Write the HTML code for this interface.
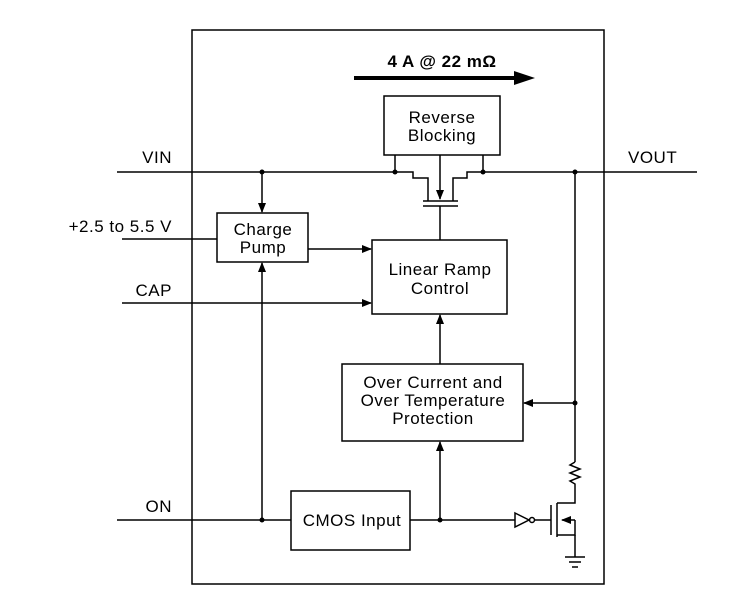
<!DOCTYPE html>
<html><head><style>
html,body{margin:0;padding:0;background:#fff;}
svg{display:block;}
text{font-family:"Liberation Sans",sans-serif;font-size:17px;letter-spacing:0.5px;fill:#000;}
</style></head><body>
<svg width="746" height="616" viewBox="0 0 746 616" xmlns="http://www.w3.org/2000/svg">
<defs>
<marker id="a" markerWidth="10" markerHeight="10" refX="9" refY="5" orient="auto" markerUnits="userSpaceOnUse">
<path d="M0,1 L10,5 L0,9 Z" fill="#000"/></marker>
</defs>
<g fill="none" stroke="#000" stroke-width="1.5">
<rect x="192" y="30" width="412" height="554"/>
<rect x="384" y="96" width="116" height="59"/>
<rect x="217" y="213" width="91" height="49"/>
<rect x="372" y="240" width="135" height="74"/>
<rect x="342" y="364" width="181" height="77"/>
<rect x="291" y="491" width="119" height="59"/>
<path d="M117,172 H413 V178 H428 V201"/>
<path d="M697,172 H467 V178 H453 V201"/>
<path d="M395,155 V172 M483,155 V172"/>
<path d="M440,155 V199" marker-end="url(#a)"/>
<path d="M423,201 H435 M435,201 H446 M446,201 H458"/>
<path d="M423,206 H458 M440,206 V240"/>
<path d="M262,172 V212" marker-end="url(#a)"/>
<path d="M122,239 H217"/>
<path d="M308,249 H371" marker-end="url(#a)"/>
<path d="M122,303 H371" marker-end="url(#a)"/>
<path d="M440,364 V315" marker-end="url(#a)"/>
<path d="M575,172 V462"/>
<path d="M575,403 H524" marker-end="url(#a)"/>
<path d="M117,520 H291"/>
<path d="M262,520 V263" marker-end="url(#a)"/>
<path d="M410,520 H515"/>
<path d="M440,520 V442" marker-end="url(#a)"/>
<path d="M515,513 L529,520 L515,527 Z"/>
<circle cx="532" cy="520" r="2.5"/>
<path d="M535,520 H551"/>
<path d="M551,505 V535"/>
<path d="M557,503 V537"/>
<path d="M557,503 H575 V487"/>
<path d="M575,462 L570,465 L580,469 L570,473 L580,477 L570,481 L575,484 V487"/>
<path d="M575,520 H562" marker-end="url(#a)"/>
<path d="M575,520 V535 H557"/>
<path d="M575,535 V557"/>
<path d="M565,557 H585 M569,562 H581 M572,567 H578"/>
</g>
<g fill="#000">
<circle cx="395" cy="172" r="2.5"/><circle cx="483" cy="172" r="2.5"/>
<circle cx="575" cy="172" r="2.5"/><circle cx="262" cy="172" r="2.5"/>
<circle cx="575" cy="403" r="2.5"/><circle cx="262" cy="520" r="2.5"/>
<circle cx="440" cy="520" r="2.5"/>
</g>
<path d="M354,78 H516" stroke="#000" stroke-width="4"/>
<path d="M514,71 L535,78 L514,85 Z" fill="#000"/>
<text x="442" y="67" text-anchor="middle" font-weight="bold">4 A @ 22 mΩ</text>
<g text-anchor="middle">
<text x="442" y="123">Reverse</text>
<text x="442" y="141">Blocking</text>
<text x="263" y="235">Charge</text>
<text x="263" y="253">Pump</text>
<text x="440" y="275">Linear Ramp</text>
<text x="440" y="294">Control</text>
<text x="433" y="388">Over Current and</text>
<text x="433" y="406">Over Temperature</text>
<text x="433" y="424">Protection</text>
<text x="352" y="526">CMOS Input</text>
</g>
<g text-anchor="end">
<text x="172" y="163">VIN</text>
<text x="172" y="232">+2.5 to 5.5 V</text>
<text x="172" y="296">CAP</text>
<text x="172" y="512">ON</text>
</g>
<text x="628" y="163">VOUT</text>
</svg>
</body></html>
